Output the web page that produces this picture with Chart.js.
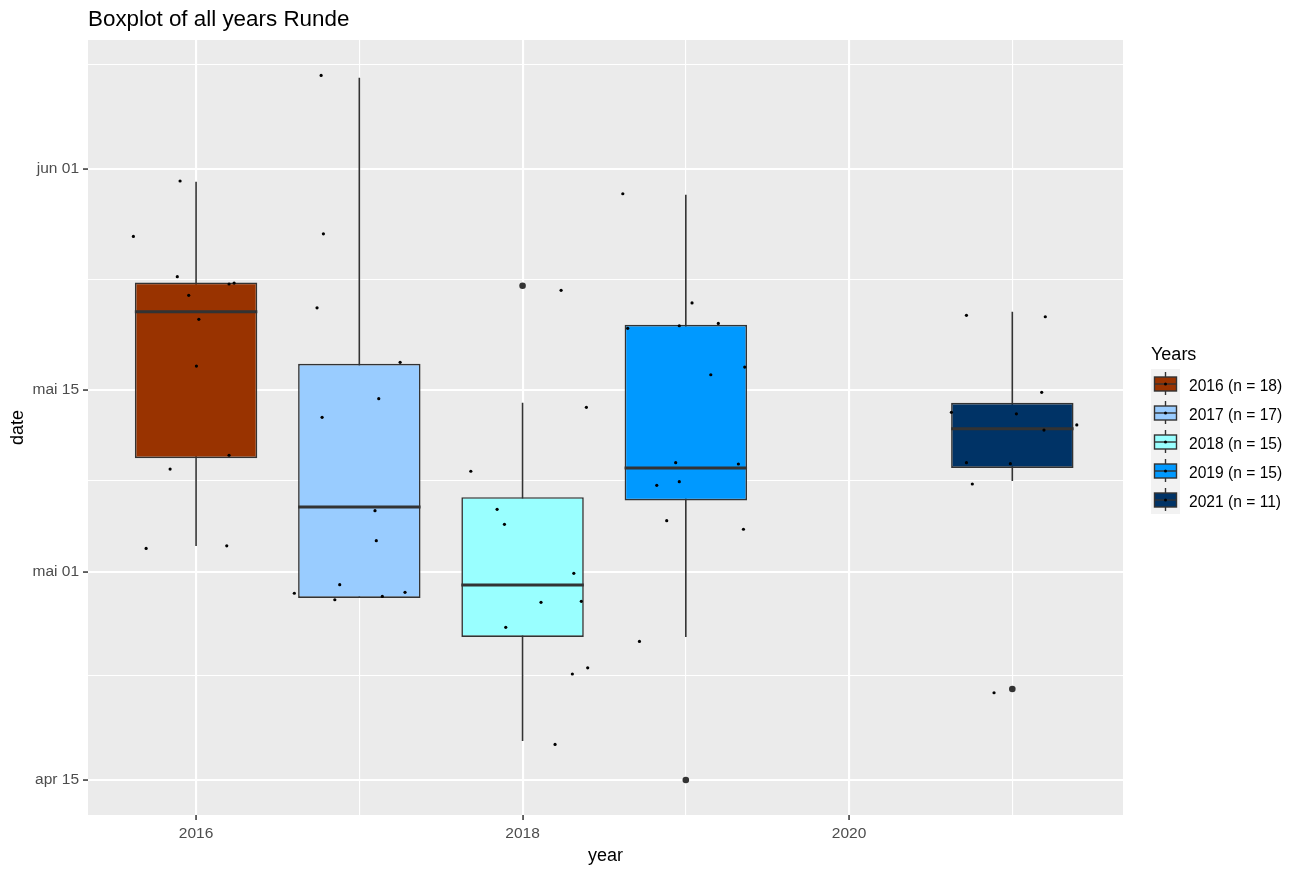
<!DOCTYPE html>
<html>
<head>
<meta charset="utf-8">
<title>Boxplot of all years Runde</title>
<script src="https://cdn.jsdelivr.net/npm/chart.js@4.4.1/dist/chart.umd.min.js"></script>
<style>
  html, body { margin: 0; padding: 0; background: #ffffff; }
  #wrap { position: relative; width: 1295px; height: 870px; font-family: "Liberation Sans", Arial, sans-serif; }
  #plot { position: absolute; left: 0; top: 0; }
  #title { position: absolute; left: 88px; top: 8px; font-size: 22.4px; line-height: 22px; color: #000; white-space: nowrap; }
  #legend-title { position: absolute; left: 1151px; top: 345px; font-size: 18px; line-height: 18px; color: #000; white-space: nowrap; }
  .key { position: absolute; left: 1151px; width: 29px; height: 29px; }
  .key-label { position: absolute; left: 1189px; height: 29px; line-height: 29px; font-size: 15.6px; color: #000; white-space: nowrap; }
</style>
</head>
<body>
<div id="wrap">
  <canvas id="plot" width="1295" height="870"></canvas>
  <div id="title">Boxplot of all years Runde</div>
  <div id="legend-title">Years</div>
  <div id="legend"></div>
</div>
<script>
// Dates are stored as day of year (apr 15 = 105, mai 01 = 121, mai 15 = 135, jun 01 = 152).
const years = [2016, 2017, 2018, 2019, 2021];
const sampleSizes = [18, 17, 15, 15, 11];

// Box statistics per year
const whiskerLow  = [123, 119, 108, 116, 128];
const boxLower    = [129.75, 119, 116, 126.5, 129];
const medians     = [141, 126, 120, 129, 132];
const boxUpper    = [143.25, 137, 126.75, 140, 134];
const whiskerHigh = [151, 159, 134, 150, 141];

// Outlying observations
const outlierYears = [2018, 2019, 2021];
const outlierDays  = [143, 105, 112];

// Jittered observations [year, day]
const points2016 = [
  [2015.902, 151.06], [2015.616, 146.80], [2015.885, 143.70], [2016.202, 143.14],
  [2016.233, 143.21], [2015.955, 142.27], [2016.017, 140.42], [2016.002, 136.83],
  [2016.202, 129.97], [2015.841, 128.91], [2015.694, 122.81], [2016.188, 123.01]
];
const points2017 = [
  [2016.766, 159.18], [2016.780, 147.00], [2016.741, 141.31], [2017.250, 137.12],
  [2017.119, 134.32], [2016.772, 132.89], [2017.096, 125.71], [2017.104, 123.40],
  [2016.602, 119.36], [2016.880, 120.02], [2016.850, 118.86], [2017.141, 119.12],
  [2017.280, 119.43]
];
const points2018 = [
  [2018.236, 142.65], [2018.391, 133.66], [2017.683, 128.74], [2017.844, 125.81],
  [2017.889, 124.66], [2018.314, 120.89], [2018.113, 118.66], [2018.360, 118.74],
  [2017.897, 116.74], [2018.399, 113.63], [2018.305, 113.15], [2018.199, 107.74]
];
const points2019 = [
  [2018.614, 150.08], [2019.038, 141.68], [2018.644, 139.73], [2018.960, 139.93],
  [2019.199, 140.11], [2019.361, 136.75], [2019.153, 136.16], [2018.938, 129.40],
  [2019.322, 129.30], [2018.822, 127.66], [2018.960, 127.94], [2018.883, 124.94],
  [2019.353, 124.28], [2018.716, 115.66]
];
const points2021 = [
  [2020.719, 140.73], [2021.202, 140.62], [2021.180, 134.81], [2020.627, 133.27],
  [2021.025, 133.16], [2021.395, 132.30], [2021.194, 131.91], [2020.719, 129.40],
  [2020.988, 129.32], [2020.755, 127.76], [2020.888, 111.71]
];

// Axis ticks
const yearTicks = [2016, 2018, 2020];
const yearMinorTicks = [2017, 2019, 2021];
const dayTicks = [105, 121, 135, 152];
const dayTickLabels = ['apr 15', 'mai 01', 'mai 15', 'jun 01'];
const dayMinorTicks = [113, 128, 143.5, 160];

// Axis limits
const yearRange = [2015.338, 2021.678];
const dayRange = [102.31, 161.9];

// Styling
const boxColors = ['#993300', '#99CCFF', '#99FFFF', '#0099FF', '#003366'];
const BOX_WIDTH = 0.75;
const INK = '#333333';
const FONT = '"Liberation Sans", Arial, sans-serif';

Chart.defaults.font.family = FONT;

const half = BOX_WIDTH / 2;
const whiskerData = [];
const medianData = [];
years.forEach((yr, i) => {
  whiskerData.push({x: yr, y: whiskerLow[i]}, {x: yr, y: whiskerHigh[i]}, {x: yr, y: null});
  medianData.push({x: yr - half, y: medians[i]}, {x: yr + half, y: medians[i]}, {x: yr, y: null});
});
const boxData = years.map((yr, i) => ({x: yr, y: [boxLower[i], boxUpper[i]]}));
const outlierData = outlierYears.map((yr, i) => ({x: yr, y: outlierDays[i]}));
const jitterData = [].concat(points2016, points2017, points2018, points2019, points2021)
  .map(([x, y]) => ({x, y}));

const isMinor = (list, ctx) => ctx.tick && list.includes(ctx.tick.value);

const panelBackground = {
  id: 'panelBackground',
  beforeDraw(chart) {
    const {ctx, chartArea: {left, top, width, height}} = chart;
    ctx.save();
    ctx.fillStyle = '#EBEBEB';
    ctx.fillRect(left, top, width, height);
    ctx.restore();
  }
};

new Chart(document.getElementById('plot'), {
  type: 'scatter',
  data: {
    datasets: [
      {
        type: 'line', label: 'whiskers', data: whiskerData, order: 4,
        borderColor: INK, borderWidth: 1.6, pointRadius: 0, spanGaps: false, fill: false
      },
      {
        type: 'bar', label: 'boxes', data: boxData, order: 3,
        backgroundColor: boxColors, borderColor: INK, borderWidth: 1.6, borderSkipped: false,
        categoryPercentage: BOX_WIDTH, barPercentage: 1
      },
      {
        type: 'line', label: 'medians', data: medianData, order: 2,
        borderColor: INK, borderWidth: 3, pointRadius: 0, spanGaps: false, fill: false
      },
      {
        label: 'outliers', data: outlierData, order: 1,
        pointRadius: 3.3, backgroundColor: INK, borderWidth: 0
      },
      {
        label: 'observations', data: jitterData, order: 0,
        pointRadius: 1.6, backgroundColor: '#000000', borderWidth: 0
      }
    ]
  },
  options: {
    responsive: false,
    devicePixelRatio: 1,
    animation: false,
    events: [],
    layout: { padding: { left: 0, top: 40, right: 172, bottom: 0 } },
    plugins: { legend: { display: false }, tooltip: { enabled: false }, title: { display: false } },
    scales: {
      x: {
        type: 'linear', position: 'bottom', offset: false,
        min: yearRange[0], max: yearRange[1],
        afterFit: s => { s.height = 55; },
        afterBuildTicks: s => {
          s.ticks = yearTicks.concat(yearMinorTicks).sort((a, b) => a - b).map(v => ({value: v}));
        },
        ticks: {
          autoSkip: false, maxRotation: 0, padding: 4, color: '#4D4D4D',
          font: { size: 15.5 },
          callback: v => (yearTicks.includes(v) ? String(v) : '')
        },
        grid: {
          offset: false, color: '#FFFFFF', drawTicks: true, tickLength: 5,
          lineWidth: ctx => (isMinor(yearMinorTicks, ctx) ? 1.1 : 2.1),
          tickColor: ctx => (isMinor(yearMinorTicks, ctx) ? 'rgba(0,0,0,0)' : INK),
          tickWidth: 1.5
        },
        border: { display: false },
        title: { display: true, text: 'year', color: '#000', font: { size: 18 }, padding: { top: 0, bottom: 3 } }
      },
      y: {
        type: 'linear', position: 'left',
        min: dayRange[0], max: dayRange[1],
        afterFit: s => { s.width = 88; },
        afterBuildTicks: s => {
          s.ticks = dayTicks.concat(dayMinorTicks).sort((a, b) => a - b).map(v => ({value: v}));
        },
        ticks: {
          autoSkip: false, padding: 4, color: '#4D4D4D',
          font: { size: 15.5 },
          callback: v => { const i = dayTicks.indexOf(v); return i >= 0 ? dayTickLabels[i] : ''; }
        },
        grid: {
          color: '#FFFFFF', drawTicks: true, tickLength: 5,
          lineWidth: ctx => (isMinor(dayMinorTicks, ctx) ? 1.1 : 2.1),
          tickColor: ctx => (isMinor(dayMinorTicks, ctx) ? 'rgba(0,0,0,0)' : INK),
          tickWidth: 1.5
        },
        border: { display: false },
        title: { display: true, text: 'date', color: '#000', font: { size: 18 }, padding: { top: 7, bottom: 0 } }
      }
    }
  },
  plugins: [panelBackground]
});

// Legend: one boxplot key per year
const legend = document.getElementById('legend');
const KEY = 29, KEY_TOP = 369;
years.forEach((yr, i) => {
  const top = KEY_TOP + i * KEY;
  const cv = document.createElement('canvas');
  cv.width = KEY; cv.height = KEY;
  cv.className = 'key';
  cv.style.top = top + 'px';
  const c = cv.getContext('2d');
  c.fillStyle = '#F2F2F2';
  c.fillRect(0, 0, KEY, KEY);
  c.strokeStyle = INK;
  c.lineWidth = 1.4;
  c.beginPath(); c.moveTo(14.5, 3); c.lineTo(14.5, 26); c.stroke();
  c.fillStyle = boxColors[i];
  c.fillRect(3.5, 8, 22, 14);
  c.strokeRect(3.5, 8, 22, 14);
  c.lineWidth = 1.4;
  c.beginPath(); c.moveTo(3.5, 15); c.lineTo(25.5, 15); c.stroke();
  c.fillStyle = '#000';
  c.beginPath(); c.arc(14.5, 15, 1.5, 0, Math.PI * 2); c.fill();
  legend.appendChild(cv);

  const lab = document.createElement('div');
  lab.className = 'key-label';
  lab.style.top = (top + 2) + 'px';
  lab.textContent = yr + ' (n = ' + sampleSizes[i] + ')';
  legend.appendChild(lab);
});
</script>
</body>
</html>
